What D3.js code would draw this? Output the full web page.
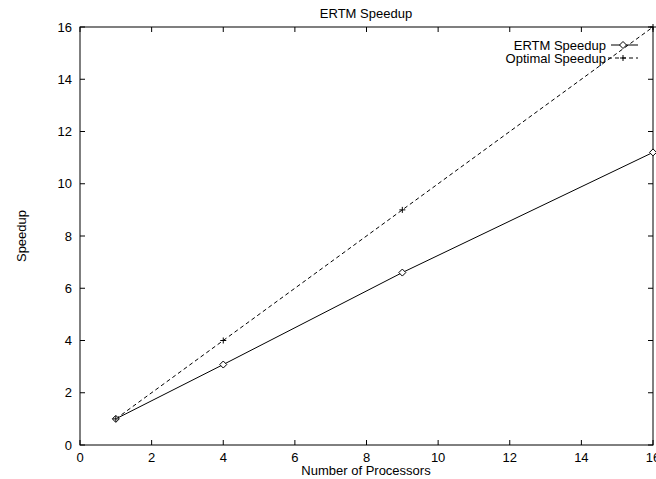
<!DOCTYPE html>
<html>
<head>
<meta charset="utf-8">
<script src="https://cdn.jsdelivr.net/npm/d3@7"></script>
<style>
  body { margin: 0; background: #fff; }
  text { font-family: "Liberation Sans", Arial, sans-serif; font-size: 13px; fill: #000; }
</style>
</head>
<body>
<svg id="chart" width="656" height="479"></svg>
<script>
// data
const PROCESSORS = [1, 4, 9, 16];
const ERTM_SPEEDUP = [1, 3.08, 6.6, 11.2];
const OPTIMAL_SPEEDUP = [1, 4, 9, 16];
const X_TICKS = [0, 2, 4, 6, 8, 10, 12, 14, 16];
const Y_TICKS = [0, 2, 4, 6, 8, 10, 12, 14, 16];
const SERIES_NAMES = ['ERTM Speedup', 'Optimal Speedup'];

const svg = d3.select('#chart');
const L = 80, R = 653, T = 27, B = 445;
const TICK = 5;

const x = d3.scaleLinear().domain([0, 16]).range([L, R]);
const y = d3.scaleLinear().domain([0, 16]).range([B, T]);

// frame
svg.append('rect')
    .attr('x', L).attr('y', T)
    .attr('width', R - L).attr('height', B - T)
    .attr('fill', 'none').attr('stroke', '#000').attr('stroke-width', 1);

// ticks, inward, mirrored on top / right
const g = svg.append('g').attr('stroke', '#000').attr('stroke-width', 1);
X_TICKS.forEach(v => {
    g.append('line').attr('x1', x(v)).attr('x2', x(v)).attr('y1', B).attr('y2', B - TICK);
    g.append('line').attr('x1', x(v)).attr('x2', x(v)).attr('y1', T).attr('y2', T + TICK);
});
Y_TICKS.forEach(v => {
    g.append('line').attr('x1', L).attr('x2', L + TICK).attr('y1', y(v)).attr('y2', y(v));
    g.append('line').attr('x1', R).attr('x2', R - TICK).attr('y1', y(v)).attr('y2', y(v));
});

svg.selectAll('.xlab')
    .data(X_TICKS)
    .enter()
    .append('text')
    .attr('class', 'xlab')
    .attr('x', d => x(d))
    .attr('y', B + 17)
    .attr('text-anchor', 'middle')
    .text(d => d);

svg.selectAll('.ylab')
    .data(Y_TICKS)
    .enter()
    .append('text')
    .attr('class', 'ylab')
    .attr('x', L - 8)
    .attr('y', d => y(d) + 4.5)
    .attr('text-anchor', 'end')
    .text(d => d);

// titles
svg.append('text').attr('x', 366).attr('y', 18).attr('text-anchor', 'middle').text('ERTM Speedup');
svg.append('text').attr('x', 366).attr('y', 475).attr('text-anchor', 'middle').text('Number of Processors');
svg.append('text')
    .attr('transform', `translate(26,${(T + B) / 2}) rotate(-90)`)
    .attr('text-anchor', 'middle')
    .text('Speedup');

// series
const line = d3.line().x(d => x(d[0])).y(d => y(d[1]));
const ertm = PROCESSORS.map((p, i) => [p, ERTM_SPEEDUP[i]]);
const optimal = PROCESSORS.map((p, i) => [p, OPTIMAL_SPEEDUP[i]]);

svg.append('path').datum(optimal)
    .attr('d', line).attr('fill', 'none').attr('stroke', '#000')
    .attr('stroke-width', 1).attr('stroke-dasharray', '4,3');
svg.append('path').datum(ertm)
    .attr('d', line).attr('fill', 'none').attr('stroke', '#000').attr('stroke-width', 1);

const diamond = (cx, cy) => `M${cx},${cy - 3.5}L${cx + 3.5},${cy}L${cx},${cy + 3.5}L${cx - 3.5},${cy}Z`;
const plus = (cx, cy) => `M${cx - 3},${cy}H${cx + 3}M${cx},${cy - 3}V${cy + 3}`;

svg.selectAll('.ertm-pt')
    .data(ertm)
    .enter()
    .append('path')
    .attr('class', 'ertm-pt')
    .attr('d', d => diamond(x(d[0]), y(d[1])))
    .attr('fill', '#fff').attr('stroke', '#000').attr('stroke-width', 1);

svg.selectAll('.opt-pt')
    .data(optimal)
    .enter()
    .append('path')
    .attr('class', 'opt-pt')
    .attr('d', d => plus(x(d[0]), y(d[1])))
    .attr('fill', 'none').attr('stroke', '#000').attr('stroke-width', 1);

// legend
const legY = [45, 58];
svg.selectAll('.leg-text')
    .data(SERIES_NAMES)
    .enter()
    .append('text')
    .attr('class', 'leg-text')
    .attr('x', 606)
    .attr('y', (d, i) => legY[i] + 4.5)
    .attr('text-anchor', 'end')
    .text(d => d);

svg.append('line').attr('x1', 611).attr('x2', 638).attr('y1', legY[0]).attr('y2', legY[0])
    .attr('stroke', '#000');
svg.append('path').attr('d', diamond(623, legY[0])).attr('fill', '#fff').attr('stroke', '#000');
svg.append('line').attr('x1', 608).attr('x2', 638).attr('y1', legY[1]).attr('y2', legY[1])
    .attr('stroke', '#000').attr('stroke-dasharray', '4,3');
svg.append('path').attr('d', plus(623, legY[1])).attr('fill', 'none').attr('stroke', '#000');
</script>
</body>
</html>
